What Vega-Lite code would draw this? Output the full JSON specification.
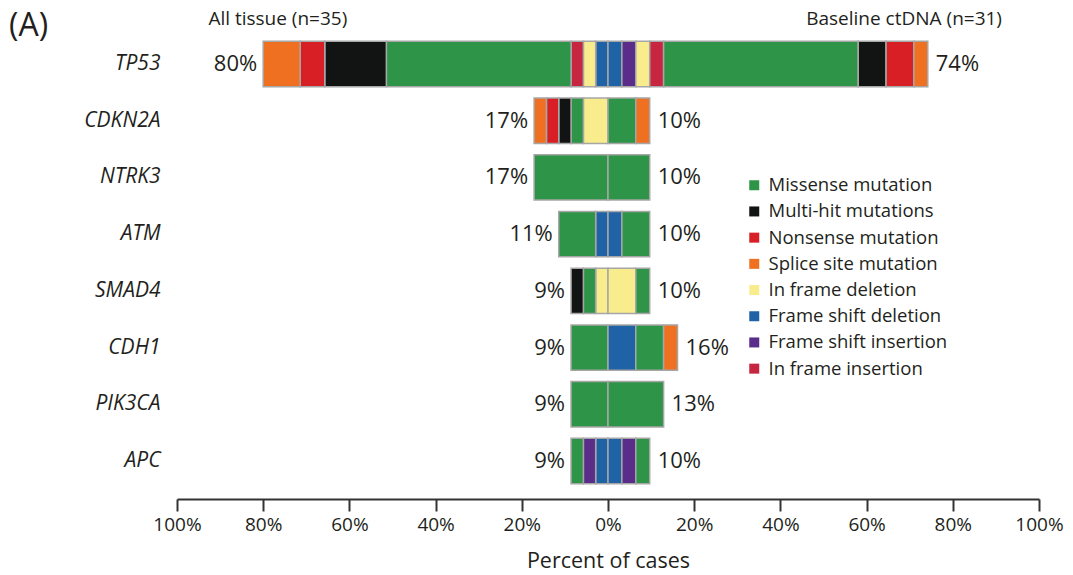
{
  "$schema": "https://vega.github.io/schema/vega-lite/v6.json",
  "autosize": {"type": "none"},
  "padding": {"left": 177, "top": 26, "right": 34, "bottom": 76},
  "width": 862,
  "height": 473,
  "background": "white",
  "config": {
    "view": {"stroke": null},
    "font": "Open Sans",
    "text": {"font": "Open Sans", "color": "#231f20"}
  },
  "title": {"text": "(A)", "anchor": "start", "frame": "group", "dx": -168, "dy": 33, "fontSize": 32, "fontWeight": "normal", "color": "#231f20", "font": "Open Sans", "offset": 0},
  "datasets": {
    "segments": [
      {"gene": "TP53", "type": "Frame shift deletion", "rank": 1, "pct": -2.857},
      {"gene": "TP53", "type": "In frame deletion", "rank": 3, "pct": -2.857},
      {"gene": "TP53", "type": "In frame insertion", "rank": 4, "pct": -2.857},
      {"gene": "TP53", "type": "Missense mutation", "rank": 5, "pct": -42.857},
      {"gene": "TP53", "type": "Multi-hit mutations", "rank": 6, "pct": -14.286},
      {"gene": "TP53", "type": "Nonsense mutation", "rank": 7, "pct": -5.714},
      {"gene": "TP53", "type": "Splice site mutation", "rank": 8, "pct": -8.571},
      {"gene": "TP53", "type": "Frame shift deletion", "rank": 1, "pct": 3.226},
      {"gene": "TP53", "type": "Frame shift insertion", "rank": 2, "pct": 3.226},
      {"gene": "TP53", "type": "In frame deletion", "rank": 3, "pct": 3.226},
      {"gene": "TP53", "type": "In frame insertion", "rank": 4, "pct": 3.226},
      {"gene": "TP53", "type": "Missense mutation", "rank": 5, "pct": 45.161},
      {"gene": "TP53", "type": "Multi-hit mutations", "rank": 6, "pct": 6.452},
      {"gene": "TP53", "type": "Nonsense mutation", "rank": 7, "pct": 6.452},
      {"gene": "TP53", "type": "Splice site mutation", "rank": 8, "pct": 3.226},
      {"gene": "CDKN2A", "type": "In frame deletion", "rank": 3, "pct": -5.714},
      {"gene": "CDKN2A", "type": "Missense mutation", "rank": 5, "pct": -2.857},
      {"gene": "CDKN2A", "type": "Multi-hit mutations", "rank": 6, "pct": -2.857},
      {"gene": "CDKN2A", "type": "Nonsense mutation", "rank": 7, "pct": -2.857},
      {"gene": "CDKN2A", "type": "Splice site mutation", "rank": 8, "pct": -2.857},
      {"gene": "CDKN2A", "type": "Missense mutation", "rank": 5, "pct": 6.452},
      {"gene": "CDKN2A", "type": "Splice site mutation", "rank": 8, "pct": 3.226},
      {"gene": "NTRK3", "type": "Missense mutation", "rank": 5, "pct": -17.143},
      {"gene": "NTRK3", "type": "Missense mutation", "rank": 5, "pct": 9.677},
      {"gene": "ATM", "type": "Frame shift deletion", "rank": 1, "pct": -2.857},
      {"gene": "ATM", "type": "Missense mutation", "rank": 5, "pct": -8.571},
      {"gene": "ATM", "type": "Frame shift deletion", "rank": 1, "pct": 3.226},
      {"gene": "ATM", "type": "Missense mutation", "rank": 5, "pct": 6.452},
      {"gene": "SMAD4", "type": "In frame deletion", "rank": 3, "pct": -2.857},
      {"gene": "SMAD4", "type": "Missense mutation", "rank": 5, "pct": -2.857},
      {"gene": "SMAD4", "type": "Multi-hit mutations", "rank": 6, "pct": -2.857},
      {"gene": "SMAD4", "type": "In frame deletion", "rank": 3, "pct": 6.452},
      {"gene": "SMAD4", "type": "Missense mutation", "rank": 5, "pct": 3.226},
      {"gene": "CDH1", "type": "Missense mutation", "rank": 5, "pct": -8.571},
      {"gene": "CDH1", "type": "Frame shift deletion", "rank": 1, "pct": 6.452},
      {"gene": "CDH1", "type": "Missense mutation", "rank": 5, "pct": 6.452},
      {"gene": "CDH1", "type": "Splice site mutation", "rank": 8, "pct": 3.226},
      {"gene": "PIK3CA", "type": "Missense mutation", "rank": 5, "pct": -8.571},
      {"gene": "PIK3CA", "type": "Missense mutation", "rank": 5, "pct": 12.903},
      {"gene": "APC", "type": "Frame shift deletion", "rank": 1, "pct": -2.857},
      {"gene": "APC", "type": "Frame shift insertion", "rank": 2, "pct": -2.857},
      {"gene": "APC", "type": "Missense mutation", "rank": 5, "pct": -2.857},
      {"gene": "APC", "type": "Frame shift deletion", "rank": 1, "pct": 3.226},
      {"gene": "APC", "type": "Frame shift insertion", "rank": 2, "pct": 3.226},
      {"gene": "APC", "type": "Missense mutation", "rank": 5, "pct": 3.226}
    ],
    "totals": [
      {"gene": "TP53", "side": "left", "total": -80, "label": "80%"},
      {"gene": "TP53", "side": "right", "total": 74.194, "label": "74%"},
      {"gene": "CDKN2A", "side": "left", "total": -17.143, "label": "17%"},
      {"gene": "CDKN2A", "side": "right", "total": 9.677, "label": "10%"},
      {"gene": "NTRK3", "side": "left", "total": -17.143, "label": "17%"},
      {"gene": "NTRK3", "side": "right", "total": 9.677, "label": "10%"},
      {"gene": "ATM", "side": "left", "total": -11.429, "label": "11%"},
      {"gene": "ATM", "side": "right", "total": 9.677, "label": "10%"},
      {"gene": "SMAD4", "side": "left", "total": -8.571, "label": "9%"},
      {"gene": "SMAD4", "side": "right", "total": 9.677, "label": "10%"},
      {"gene": "CDH1", "side": "left", "total": -8.571, "label": "9%"},
      {"gene": "CDH1", "side": "right", "total": 16.129, "label": "16%"},
      {"gene": "PIK3CA", "side": "left", "total": -8.571, "label": "9%"},
      {"gene": "PIK3CA", "side": "right", "total": 12.903, "label": "13%"},
      {"gene": "APC", "side": "left", "total": -8.571, "label": "9%"},
      {"gene": "APC", "side": "right", "total": 9.677, "label": "10%"}
    ],
    "headers": [
      {"gene": "TP53", "pos": -76.6, "label": "All tissue (n=35)"},
      {"gene": "TP53", "pos": 68.7, "label": "Baseline ctDNA (n=31)"}
    ]
  },
  "layer": [
    {
      "data": {"name": "segments"},
      "mark": {"type": "bar", "stroke": "#a6a6a6", "strokeWidth": 1.5},
      "encoding": {
        "y": {
          "field": "gene", "type": "nominal",
          "sort": ["TP53", "CDKN2A", "NTRK3", "ATM", "SMAD4", "CDH1", "PIK3CA", "APC"],
          "scale": {"paddingInner": 0.2, "paddingOuter": 0.27},
          "axis": {"title": null, "domain": false, "ticks": false, "labelFontSize": 21, "labelFontStyle": "italic", "labelFont": "Open Sans", "labelColor": "#231f20", "labelPadding": 17}
        },
        "x": {
          "field": "pct", "type": "quantitative", "stack": "zero",
          "scale": {"domain": [-100, 100], "nice": false},
          "axis": {
            "values": [-100, -80, -60, -40, -20, 0, 20, 40, 60, 80, 100],
            "labelExpr": "abs(datum.value) + '%'",
            "labelFlush": false,
            "grid": false, "domainColor": "#333333", "domainWidth": 2,
            "tickColor": "#333333", "tickWidth": 2, "tickSize": 12,
            "labelFontSize": 19, "labelFont": "Open Sans", "labelColor": "#231f20", "labelPadding": 4,
            "title": "Percent of cases", "titleFontSize": 21.5, "titleFontWeight": "normal", "titleFont": "Open Sans", "titleColor": "#231f20", "titlePadding": 16
          }
        },
        "color": {
          "field": "type", "type": "nominal",
          "scale": {
            "domain": ["Missense mutation", "Multi-hit mutations", "Nonsense mutation", "Splice site mutation", "In frame deletion", "Frame shift deletion", "Frame shift insertion", "In frame insertion"],
            "range": ["#2e9447", "#121413", "#d91f26", "#f07022", "#f8ec8c", "#1f62a6", "#5b2d8a", "#c72640"]
          },
          "legend": {
            "title": null, "orient": "none", "legendX": 568, "legendY": 150,
            "symbolType": "square", "symbolSize": 100, "symbolStrokeWidth": 0,
            "labelFontSize": 18.5, "labelFont": "Open Sans", "labelColor": "#231f20", "labelOffset": 5, "labelLimit": 400,
            "rowPadding": 7.2, "padding": 0
          }
        },
        "order": {"field": "rank", "type": "quantitative"}
      }
    },
    {
      "data": {"name": "totals"},
      "transform": [{"filter": "datum.side === 'left'"}],
      "mark": {"type": "text", "align": "right", "baseline": "middle", "dx": -6, "fontSize": 22},
      "encoding": {
        "y": {"field": "gene", "type": "nominal", "sort": ["TP53", "CDKN2A", "NTRK3", "ATM", "SMAD4", "CDH1", "PIK3CA", "APC"]},
        "x": {"field": "total", "type": "quantitative"},
        "text": {"field": "label"}
      }
    },
    {
      "data": {"name": "totals"},
      "transform": [{"filter": "datum.side === 'right'"}],
      "mark": {"type": "text", "align": "left", "baseline": "middle", "dx": 8, "fontSize": 22},
      "encoding": {
        "y": {"field": "gene", "type": "nominal", "sort": ["TP53", "CDKN2A", "NTRK3", "ATM", "SMAD4", "CDH1", "PIK3CA", "APC"]},
        "x": {"field": "total", "type": "quantitative"},
        "text": {"field": "label"}
      }
    },
    {
      "data": {"name": "headers"},
      "mark": {"type": "text", "align": "center", "baseline": "middle", "dy": -45, "fontSize": 19},
      "encoding": {
        "y": {"field": "gene", "type": "nominal", "sort": ["TP53", "CDKN2A", "NTRK3", "ATM", "SMAD4", "CDH1", "PIK3CA", "APC"]},
        "x": {"field": "pos", "type": "quantitative"},
        "text": {"field": "label"}
      }
    }
  ]
}
